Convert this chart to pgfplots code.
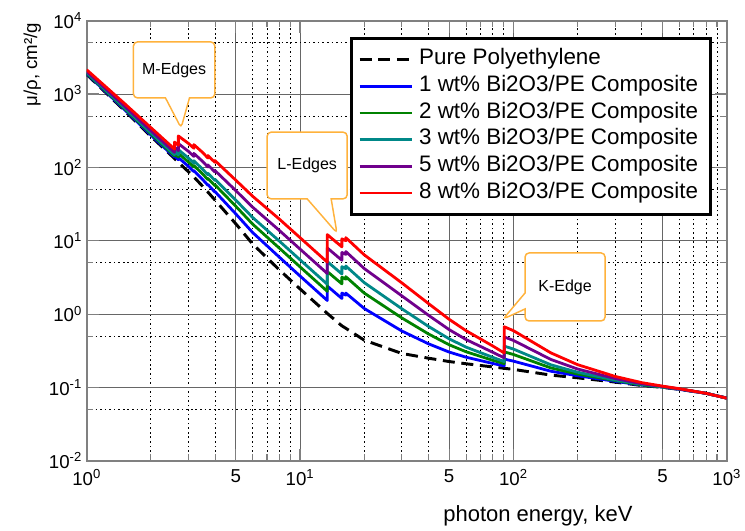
\documentclass[border=0pt]{standalone}
\usepackage{fontspec}
\setmainfont{Liberation Sans}
\usepackage{pgfplots}
\pgfplotsset{compat=1.18}
\usepackage{pgfplotstable}
\usetikzlibrary{calc,shapes.callouts}

\definecolor{cgreen}{RGB}{0,130,0}
\definecolor{cteal}{RGB}{0,136,136}
\definecolor{cpurple}{RGB}{112,0,140}
\definecolor{calloutor}{RGB}{255,178,60}

% mass attenuation coefficients (cm2/g), edges listed twice
\pgfplotstableread{
E      pe     w1     w2     w3     w5     w8
1      1850   1886   1923   1960   2032   2142
1.5    600    618    637    655    692    748
2      265    275    286    296    317    348
2.5    144    150    156    162    175    193
2.58   132    138    143    149    160    177
2.58   132    143    154    166    188    221
2.69   117    127    138    148    169    200
2.69   117    136    155    174    211    268
3.0    87     103    118    134    165    212
3.18   74     87.5   101    114    141    182
3.18   74     90.3   106    123    155    204
3.5    55     68.0   80.9   93.9   120    159
3.70   46     57.0   68.1   79.1   101    134
3.70   46     58.3   70.7   83.0   108    145
3.99   36     46.1   56.3   66.4   86.7   117
3.99   36     46.9   57.9   68.8   90.7   124
5      17     23.2   29.5   35.7   48.2   66.8
6      9.0    12.9   16.8   20.7   28.6   40.3
8      4.0    5.96   7.92   9.88   13.8   19.7
10     2.2    3.30   4.40   5.49   7.69   11.0
13.42  1.02   1.53   2.04   2.55   3.57   5.10
13.42  1.02   2.41   3.80   5.19   7.97   12.1
15.71  0.69   1.63   2.58   3.52   5.41   8.24
15.71  0.69   1.93   3.18   4.42   6.91   10.6
16.39  0.64   1.81   2.99   4.16   6.51   10.0
16.39  0.64   1.93   3.23   4.52   7.11   11.0
20     0.44   1.19   1.93   2.68   4.17   6.41
30     0.29   0.587  0.885  1.18   1.77   2.66
40     0.25   0.393  0.535  0.678  0.962  1.39
50     0.225  0.303  0.381  0.459  0.613  0.847
60     0.21   0.258  0.306  0.354  0.449  0.593
80     0.19   0.212  0.234  0.257  0.301  0.367
90.53  0.182  0.196  0.211  0.225  0.253  0.295
90.53  0.182  0.243  0.305  0.366  0.488  0.671
100    0.176  0.228  0.281  0.333  0.437  0.594
150    0.147  0.166  0.184  0.203  0.240  0.295
200    0.135  0.144  0.152  0.161  0.178  0.204
300    0.118  0.121  0.124  0.126  0.132  0.141
400    0.106  0.107  0.108  0.110  0.112  0.116
500    0.100  0.101  0.101  0.102  0.103  0.104
600    0.094  0.094  0.095  0.095  0.095  0.096
800    0.083  0.083  0.083  0.083  0.083  0.083
1000   0.0715 0.0715 0.0714 0.0714 0.0713 0.0712
}\mudata

\begin{document}
\begin{tikzpicture}
\begin{axis}[
    scale only axis,
    width=480pt, height=330pt,
    xmode=log, ymode=log,
    xmin=1, xmax=1000, ymin=1e-2, ymax=1e4,
    xtick={1,5,10,50,100,500,1000},
    xticklabels={10\textsuperscript{0},5,10\textsuperscript{1},5,10\textsuperscript{2},5,10\textsuperscript{3}},
    minor xtick={2,3,4,6,7,8,9,20,30,40,60,70,80,90,200,300,400,600,700,800,900},
    ytick={1e-2,1e-1,1,10,100,1000,1e4},
    yticklabels={10\textsuperscript{-2},10\textsuperscript{-1},10\textsuperscript{0},10\textsuperscript{1},10\textsuperscript{2},10\textsuperscript{3},10\textsuperscript{4}},
    minor ytick={0.05,0.5,5,50,500,5000},
    grid=both,
    major grid style={black!60, line width=0.6pt},
    minor grid style={black, line width=0.6pt, dash pattern=on 1.2pt off 2.2pt},
    axis line style={black!50, line width=1.6pt},
    tick style={black!50, line width=0.8pt},
    major tick length=9pt, minor tick length=5pt,
    ticklabel style={font=\fontsize{14}{16}\selectfont},
    xticklabel style={yshift=-3pt},
    xlabel={photon energy, keV},
    ylabel={μ/ρ, cm²/g},
    xlabel style={font=\fontsize{16.5}{19}\selectfont, at={(axis description cs:0.705,-0.126)}, anchor=center},
    ylabel style={font=\fontsize{14}{16}\selectfont, at={(axis description cs:-0.085,0.90)}, anchor=center},
    legend style={at={(axis description cs:0.977,0.963)}, anchor=north east,
        draw=black, line width=2pt, fill=white,
        font=\fontsize{16.8}{19}\selectfont,
        inner xsep=5pt, inner ysep=8pt, row sep=4pt,
        nodes={inner ysep=0pt, inner xsep=4.5pt, text height=12pt, text depth=4pt}},
    legend cell align=left,
    legend image code/.code={\draw[#1] (0pt,0pt) -- (39pt,0pt);},
    every axis plot/.append style={line width=2.1pt, line join=round},
]
\addplot[black, dash pattern=on 9pt off 5pt, line width=2.2pt] table[x=E, y=pe] {\mudata};
\addplot[blue] table[x=E, y=w1] {\mudata};
\addplot[cgreen] table[x=E, y=w2] {\mudata};
\addplot[cteal] table[x=E, y=w3] {\mudata};
\addplot[cpurple] table[x=E, y=w5] {\mudata};
\addplot[red] table[x=E, y=w8] {\mudata};
\legend{Pure Polyethylene,
    1 wt\% Bi2O3/PE Composite,
    2 wt\% Bi2O3/PE Composite,
    3 wt\% Bi2O3/PE Composite,
    5 wt\% Bi2O3/PE Composite,
    8 wt\% Bi2O3/PE Composite}

\node[rectangle callout, draw=calloutor, fill=white, rounded corners=3pt, line width=1.1pt,
    minimum width=61pt, minimum height=42pt, callout pointer width=18pt,
    callout absolute pointer={(axis cs:2.77,345)}, font=\fontsize{12}{14}\selectfont]
    at (axis cs:2.57,2130) {M-Edges};
\node[rectangle callout, draw=calloutor, fill=white, rounded corners=3pt, line width=1.1pt,
    minimum width=60pt, minimum height=50pt, callout pointer width=18pt,
    callout absolute pointer={(axis cs:14.9,12.7)}, font=\fontsize{12}{14}\selectfont]
    at (axis cs:10.8,106) {L-Edges};
\node[rectangle callout, draw=calloutor, fill=white, rounded corners=3pt, line width=1.1pt,
    minimum width=60pt, minimum height=51pt, callout pointer width=12pt,
    callout absolute pointer={(axis cs:89.5,0.855)}, font=\fontsize{12}{14}\selectfont]
    at (axis cs:174.7,2.34) {K-Edge};

\coordinate (SW) at (rel axis cs:0,0);
\coordinate (NE) at (rel axis cs:1,1);
\end{axis}
\pgfresetboundingbox
\path[use as bounding box] ($(SW)+(-65pt,-52pt)$) rectangle ($(NE)+(13.7pt,15.5pt)$);
\end{tikzpicture}
\end{document}
